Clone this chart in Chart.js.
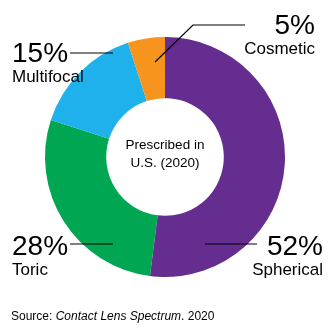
<!DOCTYPE html>
<html>
<head>
<meta charset="utf-8">
<script src="https://cdn.jsdelivr.net/npm/chart.js@4"></script>
<style>
  html, body { margin: 0; padding: 0; background: #fff; }
  #wrap { position: relative; width: 330px; height: 329px; }
</style>
</head>
<body>
<div id="wrap"><canvas id="lensChart" width="330" height="329"></canvas></div>
<script>
const lensTypes = ['Spherical', 'Toric', 'Multifocal', 'Cosmetic'];
const shares = [52, 28, 15, 5];
const sliceColors = ['#662d91', '#00a651', '#1eb1ec', '#f7941d'];
const centerLines = ['Prescribed in', 'U.S. (2020)'];

const FONT = 'Arial, "Liberation Sans", Helvetica, sans-serif';

// callout placement, offsets from the doughnut centre
const callouts = {
  Spherical:  { x: 158, y: 98,  align: 'right', line: [[40, 87], [92, 87]] },
  Toric:      { x: -153, y: 98, align: 'left',  line: [[-95, 87], [-52, 87]] },
  Multifocal: { x: -153, y: -95, align: 'left', line: [[-95, -104], [-52, -104]] },
  Cosmetic:   { x: 150, y: -123, align: 'right', line: [[80, -132], [28, -132], [-10, -95]] }
};

const calloutPlugin = {
  id: 'callouts',
  afterDraw(chart) {
    const ctx = chart.ctx;
    const arc = chart.getDatasetMeta(0).data[0];
    const cx = arc.x, cy = arc.y;
    ctx.save();
    ctx.fillStyle = '#000';
    ctx.strokeStyle = '#000';
    ctx.lineWidth = 1.2;

    lensTypes.forEach((name, i) => {
      const c = callouts[name];
      ctx.beginPath();
      c.line.forEach((p, k) => {
        if (k === 0) ctx.moveTo(cx + p[0], cy + p[1]);
        else ctx.lineTo(cx + p[0], cy + p[1]);
      });
      ctx.stroke();

      ctx.textAlign = c.align;
      ctx.textBaseline = 'alphabetic';
      ctx.font = '28px ' + FONT;
      ctx.fillText(shares[i] + '%', cx + c.x, cy + c.y);
      ctx.font = '17px ' + FONT;
      ctx.fillText(name, cx + c.x, cy + c.y + 20);
    });

    // centre caption
    ctx.textAlign = 'center';
    ctx.textBaseline = 'middle';
    ctx.font = '13.5px ' + FONT;
    ctx.fillText(centerLines[0], cx, cy - 12);
    ctx.fillText(centerLines[1], cx, cy + 6);

    // source line
    ctx.textAlign = 'left';
    ctx.textBaseline = 'middle';
    let x = 11;
    const y = 317;
    ctx.font = '12px ' + FONT;
    ctx.fillText('Source: ', x, y);
    x += ctx.measureText('Source: ').width;
    ctx.font = 'italic 12px ' + FONT;
    ctx.fillText('Contact Lens Spectrum', x, y);
    x += ctx.measureText('Contact Lens Spectrum').width;
    ctx.font = '12px ' + FONT;
    ctx.fillText('. 2020', x, y);
    ctx.restore();
  }
};

const ctx = document.getElementById('lensChart').getContext('2d');
const lensChart = new Chart(ctx, {
  type: 'doughnut',
  data: {
    labels: lensTypes,
    datasets: [{
      data: shares,
      backgroundColor: sliceColors,
      borderWidth: 0
    }]
  },
  options: {
    responsive: false,
    animation: false,
    cutout: '49%',
    rotation: 0,
    layout: { padding: { top: 37, bottom: 52, left: 45, right: 45 } },
    plugins: {
      legend: { display: false },
      tooltip: { enabled: false }
    }
  },
  plugins: [calloutPlugin]
});
</script>
</body>
</html>
